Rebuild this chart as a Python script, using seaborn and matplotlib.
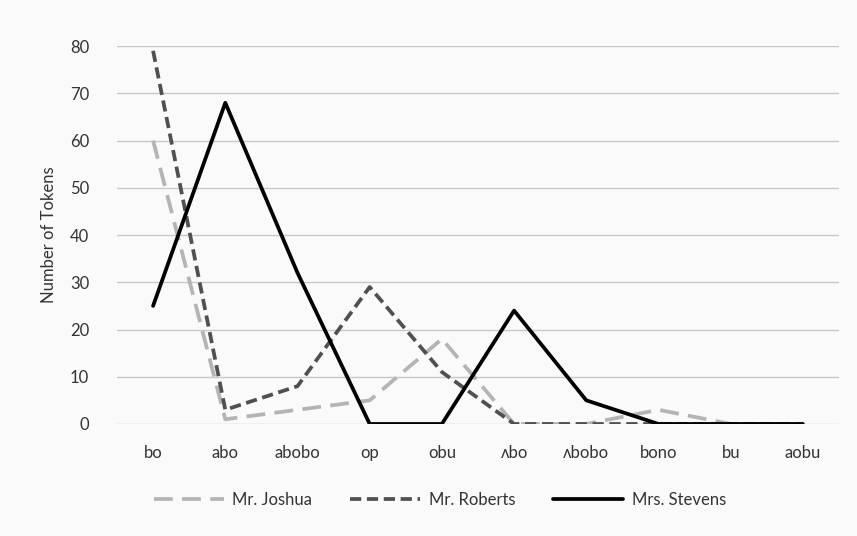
import matplotlib
matplotlib.use("Agg")
import matplotlib.pyplot as plt
import seaborn as sns
import pandas as pd

sounds = ["bo", "abo", "abobo", "op", "obu", "ʌbo", "ʌbobo", "bono", "bu", "aobu"]
joshua = [60, 1, 3, 5, 18, 0, 0, 3, 0, 0]
roberts = [79, 3, 8, 29, 11, 0, 0, 0, 0, 0]
stevens = [25, 68, 32, 0, 0, 24, 5, 0, 0, 0]
speakers = ["Mr. Joshua", "Mr. Roberts", "Mrs. Stevens"]

df = pd.DataFrame({
    "sound": sounds * 3,
    "tokens": joshua + roberts + stevens,
    "speaker": [s for s in speakers for _ in sounds],
})

sns.set_style("white")
plt.rcParams["font.family"] = ["Lato", "DejaVu Sans"]

fig, ax = plt.subplots(figsize=(8.57, 5.36), dpi=100, facecolor="#fafafa")
ax.set_facecolor("#fafafa")
fig.subplots_adjust(left=0.1365, right=0.979, top=0.914, bottom=0.209)

# Horizontal grid only, like the Excel original
ax.yaxis.grid(True, color="#c8c8c8", linewidth=1)
ax.set_axisbelow(True)

sns.lineplot(
    data=df,
    x="sound",
    y="tokens",
    hue="speaker",
    style="speaker",
    palette={"Mr. Joshua": "#b4b4b4", "Mr. Roberts": "#505050", "Mrs. Stevens": "#000000"},
    dashes={"Mr. Joshua": (5, 2.5), "Mr. Roberts": (3, 1.5), "Mrs. Stevens": ""},
    linewidth=2.7,
    sort=False,
    ax=ax,
)

ax.set_ylim(0, 80)
ax.set_xlim(-0.5, len(sounds) - 0.5)
ax.set_yticks(range(0, 81, 10))
ax.set_ylabel("Number of Tokens", fontsize=12, color="#333333", labelpad=9)
ax.set_xlabel("")
ax.tick_params(axis="both", labelsize=12, colors="#333333", length=0)
ax.tick_params(axis="x", pad=15)
ax.tick_params(axis="y", pad=20)
for side in ["top", "right", "left", "bottom"]:
    ax.spines[side].set_visible(False)

handles, labels = ax.get_legend_handles_labels()
ax.legend(
    handles,
    labels,
    loc="upper center",
    bbox_to_anchor=(0.447, -0.14),
    ncol=3,
    frameon=False,
    fontsize=12,
    handlelength=4.2,
    handletextpad=0.5,
    columnspacing=2.3,
    labelcolor="#333333",
)

fig.savefig("out.png", dpi=100, facecolor=fig.get_facecolor())
plt.close()
